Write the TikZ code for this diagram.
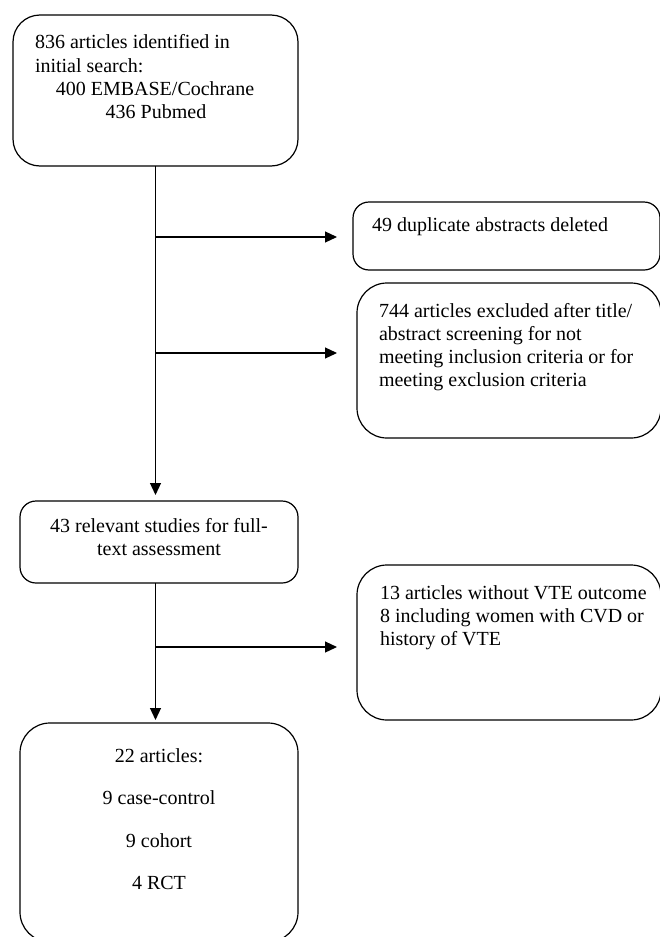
\documentclass[tikz,border=0pt]{standalone}
\usepackage{fontspec}
\setmainfont{Liberation Serif}
\usetikzlibrary{arrows.meta,calc}
\begin{document}
\begin{tikzpicture}[x=1pt,y=-1pt,
  box/.style={draw, line width=1.2pt, inner sep=0pt, outer sep=0pt, rectangle},
  txt/.style={inner sep=0pt, outer sep=0pt, font=\fontsize{20}{23}\selectfont},
  lt/.style={txt, anchor=base west},
  ct/.style={txt, anchor=base},
  arr/.style={line width=1.2pt, -{Triangle[length=12pt,width=11pt]}}]
\useasboundingbox (0,0) rectangle (659,937);
% boxes
\node[box, minimum width=285pt, minimum height=151pt, rounded corners=27pt] (b1) at (155.5,90.5) {};
\node[box, minimum width=307pt, minimum height=68pt, rounded corners=16pt] (b2) at (506.5,236) {};
\node[box, minimum width=304pt, minimum height=155pt, rounded corners=30pt] (b3) at (509,360.5) {};
\node[box, minimum width=278pt, minimum height=82pt, rounded corners=16pt] (b4) at (159,542) {};
\node[box, minimum width=304pt, minimum height=155pt, rounded corners=30pt] (b5) at (509,642.5) {};
\node[box, minimum width=278pt, minimum height=219pt, rounded corners=30pt] (b6) at (159,832.5) {};
% texts
\node[lt] (t11) at (35,48) {836 articles identified in};
\node[lt] (t12) at (35,72) {initial search:};
\node[ct] (t13) at (155,95) {400 EMBASE/Cochrane};
\node[ct] (t14) at (156,118) {436 Pubmed};
\node[lt] (t21) at (372,231) {49 duplicate abstracts deleted};
\node[lt] (t31) at (379,317) {744 articles excluded after title/};
\node[lt] (t32) at (379,340) {abstract screening for not};
\node[lt] (t33) at (379,363) {meeting inclusion criteria or for};
\node[lt] (t34) at (379,386) {meeting exclusion criteria};
\node[ct] (t41) at (159,532) {43 relevant studies for full-};
\node[ct] (t42) at (159,555) {text assessment};
\node[lt] (t51) at (380,599) {13 articles without VTE outcome};
\node[lt] (t52) at (380,622) {8 including women with CVD or};
\node[lt] (t53) at (380,645) {history of VTE};
\node[ct] (t61) at (159,762) {22 articles:};
\node[ct] (t62) at (159,804.5) {9 case-control};
\node[ct] (t63) at (159,847) {9 cohort};
\node[ct] (t64) at (159,889.5) {4 RCT};
% connectors
\coordinate (a1) at (337,237);
\coordinate (a2) at (337,353);
\coordinate (a3) at (337,647);
\draw[arr] (b1.south) -- ($(b1.south |- b4.north)+(0,-6)$);
\draw[arr] (b1.south |- a1) -- (a1);
\draw[arr] (b1.south |- a2) -- (a2);
\draw[arr] (b1.south |- b4.south) -- ($(b1.south |- b6.north)+(0,-3)$);
\draw[arr] (b1.south |- a3) -- (a3);
\end{tikzpicture}
\end{document}
